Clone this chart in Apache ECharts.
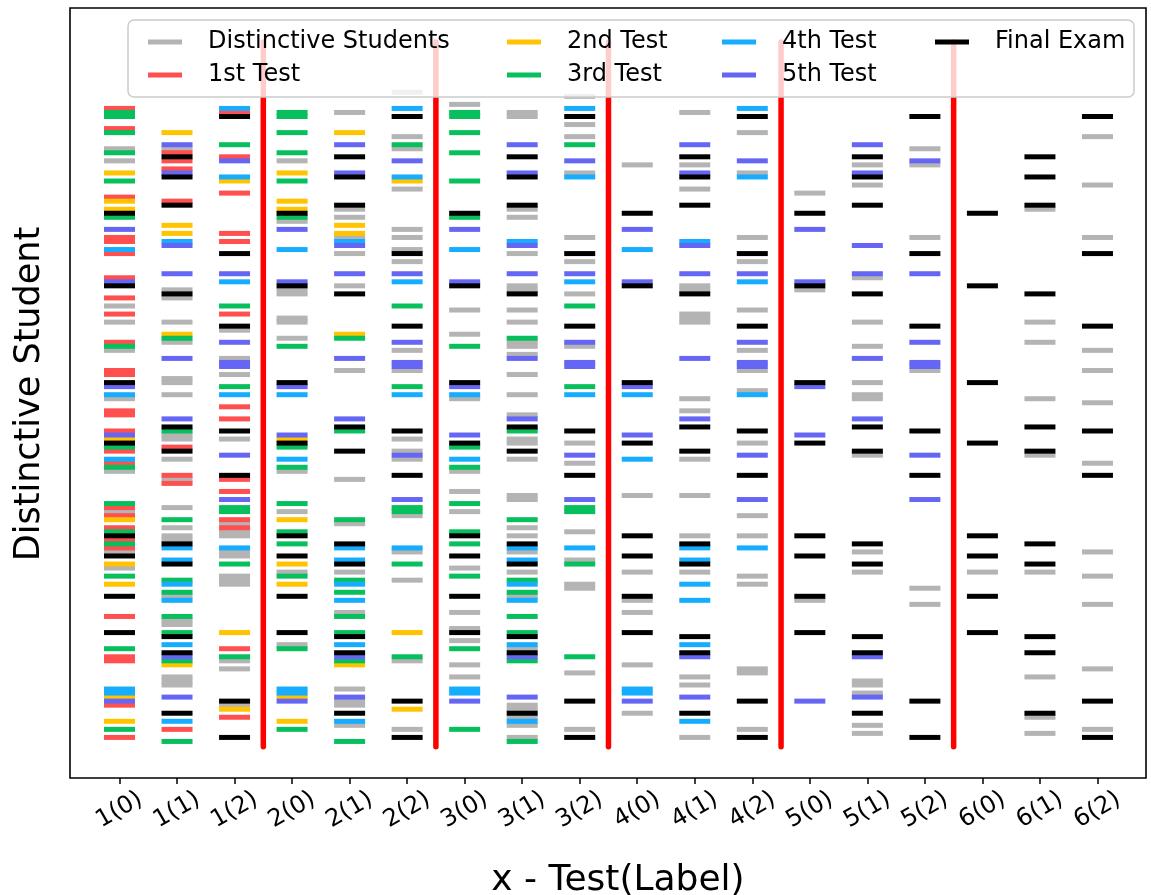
<!DOCTYPE html>
<html><head><meta charset="utf-8">
<script src="https://cdn.jsdelivr.net/npm/echarts@6/dist/echarts.min.js"></script>
<style>html,body{margin:0;padding:0;background:#fff}#c{width:1151px;height:895px}</style>
</head><body><div id="c"></div><script>
// ---- categories (Test(Label)) ----
const categories = ['1(0)','1(1)','1(2)','2(0)','2(1)','2(2)','3(0)','3(1)','3(2)',
                    '4(0)','4(1)','4(2)','5(0)','5(1)','5(2)','6(0)','6(1)','6(2)'];

// ---- Distinctive students: student rows per column ----
const distinctive = [
  [14,17,53,57,64,76,94,104,114,118],
  [14,49,51,57,62,71,72,75,85,86,91,96,103,108,110,111,125,131,132,145,146,147],
  [59,66,70,86,107,109,110,114,115,120,121,122,141,143,152],
  [17,32,49,50,56,57,61,94,104,119,137],
  [5,29,31,36,40,48,69,96,107,119,129,148,151,152,157],
  [0,11,14,24,34,36,39,42,64,69,86,89,91,105,114,121,141,158],
  [3,54,60,76,94,99,104,118,129,133,136,142,145],
  [5,6,29,31,40,48,49,54,57,62,63,65,70,75,80,86,87,91,100,101,108,110,114,119,125,138,152,153,155,157,160],
  [1,8,11,20,36,42,50,63,87,92,109,116,122,123,144,158],
  [18,100,119,126,129,142,154],
  [5,18,24,48,49,55,56,57,76,79,91,100,110,119,145,147,160],
  [10,20,36,42,54,64,69,74,87,105,110,120,122,143,144,158],
  [25,49,126],
  [18,23,46,57,63,72,75,76,90,114,119,146,147,149,157,159],
  [14,18,36,69,123,127],
  [119],
  [29,57,62,76,90,119,145,155,159],
  [11,23,36,64,69,77,92,114,120,127,143,158]
];

// ---- per-label student rows for each test (label 0, 1, 2) ----
const test1 = [
  [4,9,26,36,37,40,46,51,55,62,69,70,79,80,84,89,92,103,105,108,111,113,130,140,141,152,160],
  [15,17,19,27,88,95,97,158],
  [5,16,25,35,37,55,78,81,96,99,106,108,138,155]
];
const test2 = [
  [20,27,29,86,106,117,122,150,156],
  [10,33,35,60,142],
  [22,134,153]
];
const test3 = [
  [5,6,10,15,22,31,63,88,93,102,109,112,120,138,158],
  [61,84,106,121,124,130,134,141,161],
  [13,53,73,103,104,117,140]
];
const test4 = [
  [39,75,91,148,149],
  [37,113,116,122,126,137,156],
  [4,21,47,75,113]
];
const test5 = [
  [34,47,73,85,151],
  [13,20,38,45,66,81,140,150],
  [17,45,62,67,68,90,101]
];
const finalExam = [
  [30,48,72,87,110,115,125,134],
  [16,21,28,50,83,89,112,117,135,139,154],
  [6,40,58,84,95,151,160]
];

const seriesNames = ['Distinctive Students','1st Test','2nd Test','3rd Test','4th Test','5th Test','Final Exam'];
const seriesColors = ['#b4b4b4','#ff4f4f','#ffc300','#08bf5e','#17adff','#6666f5','#000000'];
const testLists = [test1, test2, test3, test4, test5, finalExam];

function distinctiveData() {
  const out = [];
  distinctive.forEach((rows, c) => rows.forEach(k => out.push([c, k])));
  return out;
}
// a test's marks appear in every column whose test number is not later than it
function testData(lists, testNo) {
  const out = [];
  categories.forEach((cat, c) => {
    const t = Math.floor(c / 3) + 1, label = c % 3;
    if (t <= testNo) lists[label].forEach(k => out.push([c, k]));
  });
  return out;
}

const series = [];
series.push({name: seriesNames[0], data: distinctiveData()});
testLists.forEach((lists, i) => series.push({name: seriesNames[i + 1], data: testData(lists, i + 1)}));
series.forEach((s, i) => Object.assign(s, {
  type: 'scatter', xAxisIndex: 0, yAxisIndex: 0, symbol: 'rect', symbolSize: [31, 5],
  itemStyle: {color: seriesColors[i], opacity: 1}, silent: true, z: 2,
  emphasis: {disabled: true}
}));

// red separators between test groups
const groupBoundaries = [];
for (let c = 3; c < categories.length; c += 3) groupBoundaries.push(c - 0.5);
groupBoundaries.forEach(b => series.push({
  type: 'line', xAxisIndex: 1, yAxisIndex: 0, symbol: 'none', silent: true, z: 2,
  data: [[b, -12.5], [b, 162.3]],
  lineStyle: {color: '#ff0000', width: 5.5, cap: 'round'}
}));

const FONT = 'DejaVu Sans';
const legendBase = {
  orient: 'vertical', top: 30, padding: 0, itemWidth: 34, itemHeight: 5, itemGap: 9,
  icon: 'rect', selectedMode: false,
  textStyle: {fontFamily: FONT, fontSize: 24, lineHeight: 24, color: '#000', padding: [0, 0, 0, 21]}
};

const chart = echarts.init(document.getElementById('c'), null, {renderer: 'canvas'});
chart.setOption({
  animation: false,
  backgroundColor: '#fff',
  grid: {left: 90.73, top: 8, width: 1035.5, height: 770, containLabel: false},
  xAxis: [
    {type: 'category', gridIndex: 0, data: categories, boundaryGap: true, position: 'bottom',
     axisLine: {show: false, onZero: false},
     axisTick: {show: true, alignWithLabel: true, interval: 0, length: 6, lineStyle: {color: '#000', width: 1.5}},
     axisLabel: {interval: 0, rotate: 30, align: 'center', verticalAlign: 'middle', margin: 32,
                 fontFamily: FONT, fontSize: 24, color: '#000'},
     splitLine: {show: false}},
    {type: 'value', gridIndex: 0, min: -0.5, max: 17.5, show: false}
  ],
  yAxis: [{type: 'value', gridIndex: 0, inverse: true, min: -20.907, max: 170.065, show: false}],
  legend: [
    Object.assign({}, legendBase, {left: 148, data: seriesNames.slice(0, 2)}),
    Object.assign({}, legendBase, {left: 507, data: seriesNames.slice(2, 4)}),
    Object.assign({}, legendBase, {left: 722, data: seriesNames.slice(4, 6)}),
    Object.assign({}, legendBase, {left: 935, data: seriesNames.slice(6, 7)})
  ],
  graphic: {elements: [
    {type: 'rect', z: 3, silent: true, shape: {x: 128, y: 20, width: 1006, height: 77, r: 6},
     style: {fill: 'rgba(255,255,255,0.8)', stroke: '#cccccc', lineWidth: 1.5}},
    {type: 'rect', z: 5, silent: true, shape: {x: 70, y: 8, width: 1076, height: 770},
     style: {fill: 'none', stroke: '#000', lineWidth: 1.6}},
    {type: 'text', z: 5, silent: true, x: 618, y: 881,
     style: {text: 'x - Test(Label)', font: '36px "DejaVu Sans"', fill: '#000', textAlign: 'center', textVerticalAlign: 'middle'}},
    {type: 'text', z: 5, silent: true, x: 30, y: 394, rotation: Math.PI / 2,
     style: {text: 'Distinctive Student', font: '35px "DejaVu Sans"', fill: '#000', textAlign: 'center', textVerticalAlign: 'middle'}}
  ]},
  series: series
});
</script></body></html>
